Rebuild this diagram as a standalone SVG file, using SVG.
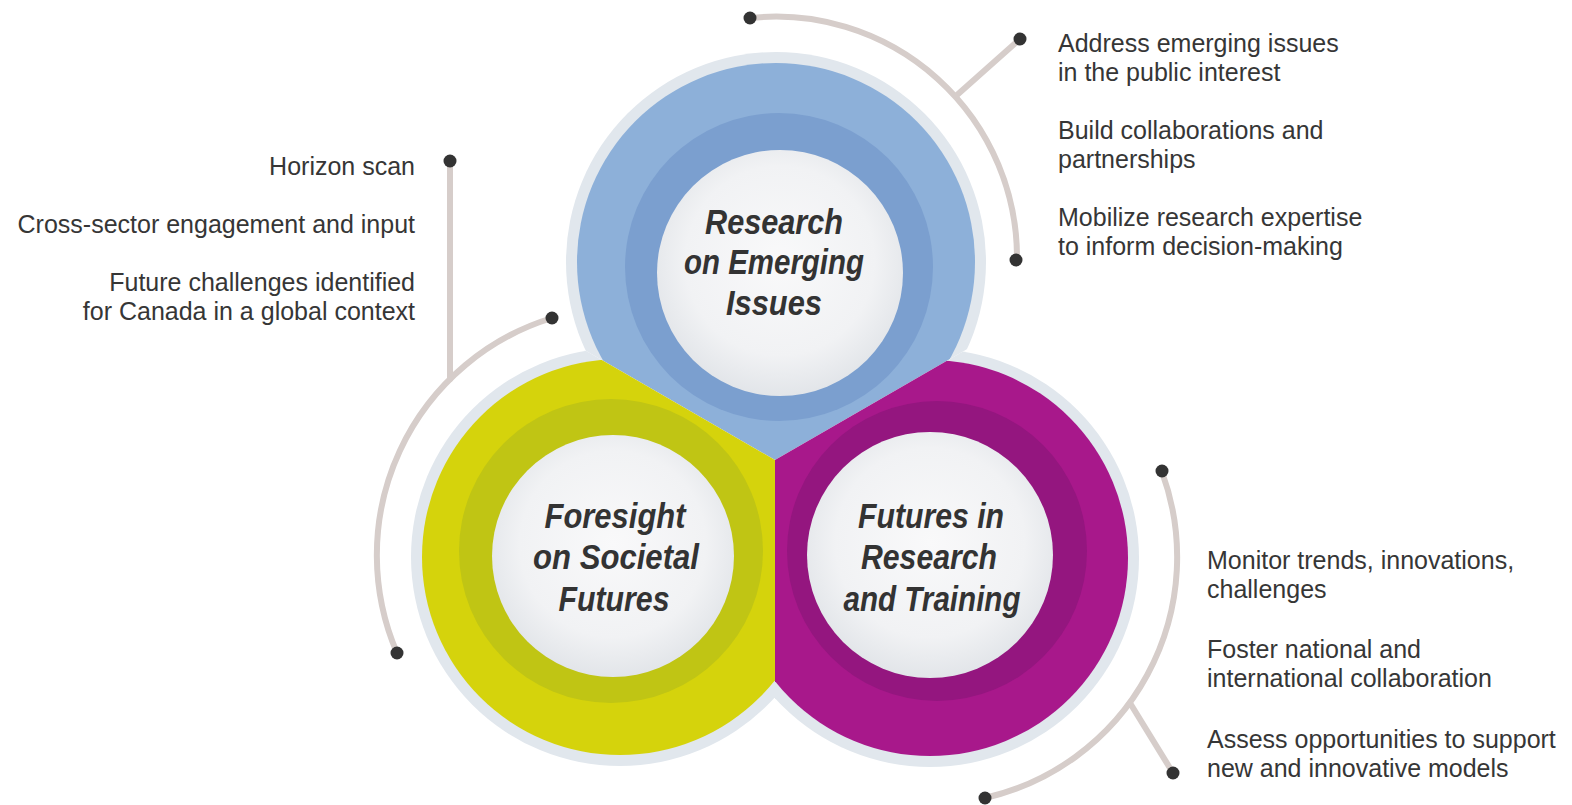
<svg xmlns="http://www.w3.org/2000/svg" width="1572" height="805" viewBox="0 0 1572 805">
<style>
.border{fill:#e1e7ed}
.lbl{font-family:"Liberation Sans",Arial,sans-serif;font-weight:700;font-style:italic;font-size:35px;fill:#333;text-anchor:middle}
.bul{font-family:"Liberation Sans",Arial,sans-serif;font-size:25px;fill:#363636}
.end{text-anchor:end}
.conn{fill:none;stroke:#d6cdca;stroke-width:6;stroke-linecap:round}
.dot{fill:#333}
</style>
<defs>
<radialGradient id="wg" cx="50%" cy="45%" r="55%">
<stop offset="0" stop-color="#f9f9fa"/>
<stop offset="0.7" stop-color="#f1f2f4"/>
<stop offset="1" stop-color="#e2e5e9"/>
</radialGradient>
<clipPath id="cBlue"><polygon points="775,460 -91,-40 -91,-600 1641,-600 1641,-40"/></clipPath>
<clipPath id="cYellow"><polygon points="775,460 -91,-40 -91,1200 775,1200"/></clipPath>
<clipPath id="cPurple"><polygon points="775,460 775,1200 1641,1200 1641,-40"/></clipPath>
</defs>
<rect width="1572" height="805" fill="#ffffff"/>

<g id="node-research-emerging-issues">
<g clip-path="url(#cBlue)">
<circle class="border" cx="776" cy="262" r="210"/>
<circle cx="776" cy="262" r="199" fill="#8db0d9"/>
<circle cx="779" cy="267" r="154" fill="#7b9fcf"/>
<circle cx="780" cy="273" r="123" fill="url(#wg)"/>
</g>
<text class="lbl" x="774" y="234" textLength="138" lengthAdjust="spacingAndGlyphs">Research</text>
<text class="lbl" x="774" y="274" textLength="180" lengthAdjust="spacingAndGlyphs">on Emerging</text>
<text class="lbl" x="774" y="315" textLength="96" lengthAdjust="spacingAndGlyphs">Issues</text>
</g>

<g id="node-foresight-societal-futures">
<g clip-path="url(#cYellow)">
<circle class="border" cx="620" cy="557" r="209"/>
<circle cx="620" cy="557" r="198" fill="#d5d30c"/>
<circle cx="611" cy="551" r="152" fill="#c0c514"/>
<circle cx="613" cy="556" r="121" fill="url(#wg)"/>
</g>
<text class="lbl" x="615" y="528" textLength="141" lengthAdjust="spacingAndGlyphs">Foresight</text>
<text class="lbl" x="616" y="569" textLength="166" lengthAdjust="spacingAndGlyphs">on Societal</text>
<text class="lbl" x="614" y="611" textLength="111" lengthAdjust="spacingAndGlyphs">Futures</text>
</g>

<g id="node-futures-research-training">
<g clip-path="url(#cPurple)">
<circle class="border" cx="930" cy="558" r="209"/>
<circle cx="930" cy="558" r="198" fill="#a8188b"/>
<circle cx="937" cy="551" r="150" fill="#94167f"/>
<circle cx="930" cy="555" r="123" fill="url(#wg)"/>
</g>
<text class="lbl" x="931" y="528" textLength="146" lengthAdjust="spacingAndGlyphs">Futures in</text>
<text class="lbl" x="929" y="569" textLength="136" lengthAdjust="spacingAndGlyphs">Research</text>
<text class="lbl" x="932" y="611" textLength="177" lengthAdjust="spacingAndGlyphs">and Training</text>
</g>

<g id="connectors">
<path class="conn" d="M 750 18 A 241 241 0 0 1 1017 259"/>
<path class="conn" d="M 957 95 L 1020 39"/>
<path class="conn" d="M 552 318 A 248 248 0 0 0 397 653"/>
<path class="conn" d="M 450 162 L 450 379"/>
<path class="conn" d="M 1162 472 A 247 247 0 0 1 985 798"/>
<path class="conn" d="M 1130 703 L 1173 773"/>
<circle class="dot" cx="750" cy="18" r="6.5"/>
<circle class="dot" cx="1020" cy="39" r="6.5"/>
<circle class="dot" cx="1016" cy="260" r="6.5"/>
<circle class="dot" cx="450" cy="161" r="6.5"/>
<circle class="dot" cx="552" cy="318" r="6.5"/>
<circle class="dot" cx="397" cy="653" r="6.5"/>
<circle class="dot" cx="1162" cy="471" r="6.5"/>
<circle class="dot" cx="1173" cy="773" r="6.5"/>
<circle class="dot" cx="985" cy="798" r="6.5"/>
</g>

<g id="text-foresight">
<text class="bul end" x="415" y="175">Horizon scan</text>
<text class="bul end" x="415" y="233">Cross-sector engagement and input</text>
<text class="bul end" x="415" y="291">Future challenges identified</text>
<text class="bul end" x="415" y="320">for Canada in a global context</text>
</g>

<g id="text-research">
<text class="bul" x="1058" y="52">Address emerging issues</text>
<text class="bul" x="1058" y="81">in the public interest</text>
<text class="bul" x="1058" y="139">Build collaborations and</text>
<text class="bul" x="1058" y="168">partnerships</text>
<text class="bul" x="1058" y="226">Mobilize research expertise</text>
<text class="bul" x="1058" y="255">to inform decision-making</text>
</g>

<g id="text-futures">
<text class="bul" x="1207" y="569">Monitor trends, innovations,</text>
<text class="bul" x="1207" y="598">challenges</text>
<text class="bul" x="1207" y="658">Foster national and</text>
<text class="bul" x="1207" y="687">international collaboration</text>
<text class="bul" x="1207" y="748">Assess opportunities to support</text>
<text class="bul" x="1207" y="777">new and innovative models</text>
</g>
</svg>
